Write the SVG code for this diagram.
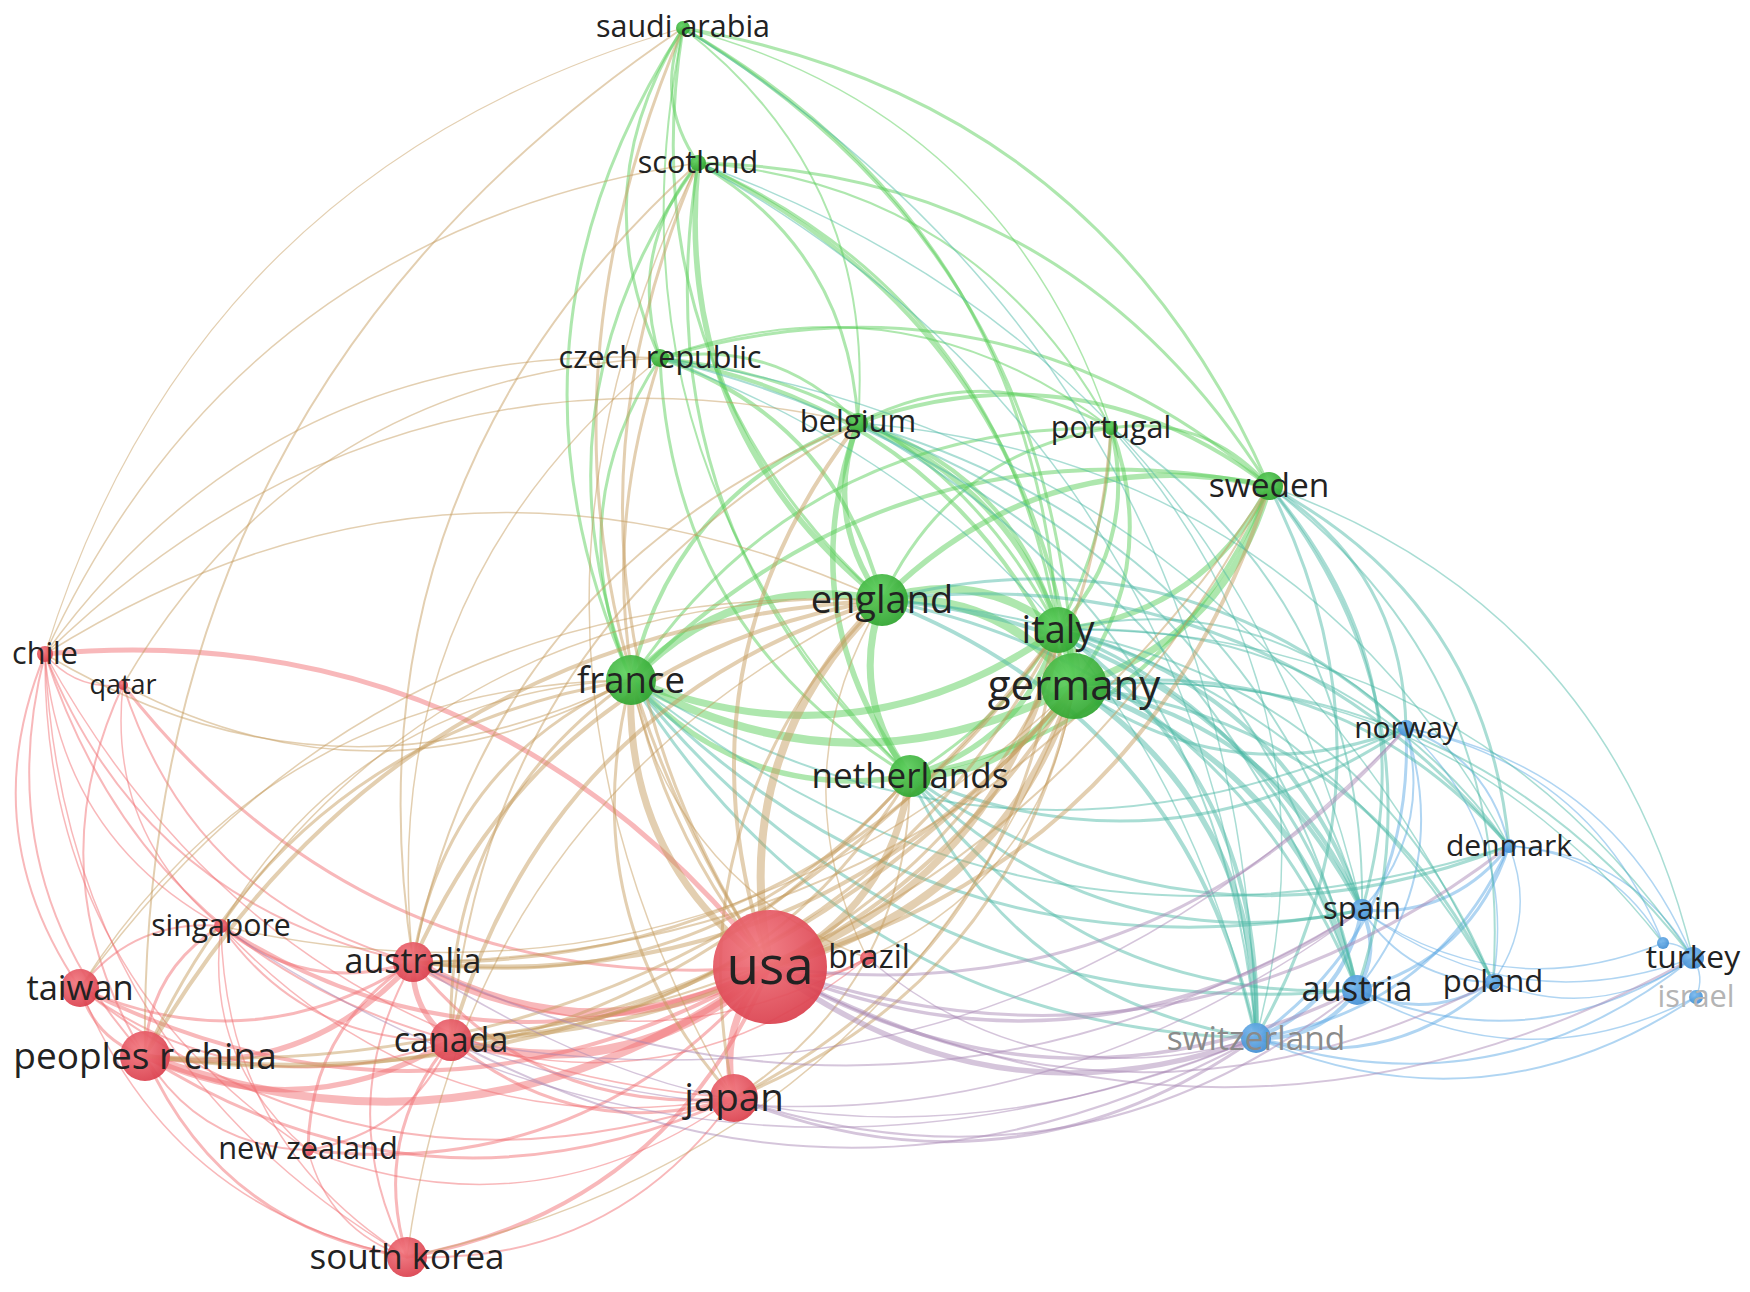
<svg xmlns="http://www.w3.org/2000/svg" width="1750" height="1292" viewBox="0 0 1750 1292">
<style>
.e{fill:none;stroke-opacity:.48;stroke-linecap:round}
.rr{stroke:#f06a6e}
.gg{stroke:#55cc55}
.bb{stroke:#5aa8e4}
.rg{stroke:#c49a5c}
.gb{stroke:#4bb8a6}
.rb{stroke:#a886b4}
.nr{fill:url(#gR);fill-opacity:.93}
.ng{fill:url(#gG);fill-opacity:.93}
.nb{fill:url(#gB);fill-opacity:.93}
text{font-family:"Open Sans","Liberation Sans",sans-serif;text-anchor:middle;fill:#222}
</style>
<defs>
<path id="c" d="M0 0Q0.5 0.27 1 0" fill="none" vector-effect="non-scaling-stroke"/>
<radialGradient id="gR" cx="0.4" cy="0.35" r="0.75"><stop offset="0" stop-color="#f27880"/><stop offset="1" stop-color="#d83a48"/></radialGradient>
<radialGradient id="gG" cx="0.4" cy="0.35" r="0.75"><stop offset="0" stop-color="#5fd05f"/><stop offset="1" stop-color="#2a9f2a"/></radialGradient>
<radialGradient id="gB" cx="0.4" cy="0.35" r="0.75"><stop offset="0" stop-color="#78b8ee"/><stop offset="1" stop-color="#3a88cf"/></radialGradient>
</defs>
<rect width="1750" height="1292" fill="#fff"/>
<g id="connectors" class="e">
<use href="#c" class="rr" stroke-width="8" transform="matrix(625 -89 89 625 145 1056)"/>
<use href="#c" class="rr" stroke-width="9" transform="matrix(357 5 -5 357 413 962)"/>
<use href="#c" class="rr" stroke-width="9" transform="matrix(319 -73 73 319 451 1040)"/>
<use href="#c" class="rr" stroke-width="7" transform="matrix(-36 131 -131 -36 770 967)"/>
<use href="#c" class="rr" stroke-width="4" transform="matrix(690 -21 21 690 80 988)"/>
<use href="#c" class="rr" stroke-width="4" transform="matrix(363 -290 290 363 407 1257)"/>
<use href="#c" class="rr" stroke-width="4" transform="matrix(549 41 -41 549 221 926)"/>
<use href="#c" class="rr" stroke-width="3" transform="matrix(462 -183 183 462 308 1150)"/>
<use href="#c" class="rr" stroke-width="5" transform="matrix(-725 -313 313 -725 770 967)"/>
<use href="#c" class="rr" stroke-width="3" transform="matrix(647 282 -282 647 123 685)"/>
<use href="#c" class="rr" stroke-width="3" transform="matrix(97 -9 9 97 770 967)"/>
<use href="#c" class="rr" stroke-width="5.5" transform="matrix(268 -94 94 268 145 1056)"/>
<use href="#c" class="rr" stroke-width="5.5" transform="matrix(306 -16 16 306 145 1056)"/>
<use href="#c" class="rr" stroke-width="3" transform="matrix(589 42 -42 589 145 1056)"/>
<use href="#c" class="rr" stroke-width="3" transform="matrix(65 68 -68 65 80 988)"/>
<use href="#c" class="rr" stroke-width="3" transform="matrix(262 201 -201 262 145 1056)"/>
<use href="#c" class="rr" stroke-width="3" transform="matrix(-76 130 -130 -76 221 926)"/>
<use href="#c" class="rr" stroke-width="2" transform="matrix(163 94 -94 163 145 1056)"/>
<use href="#c" class="rr" stroke-width="2" transform="matrix(100 402 -402 100 45 654)"/>
<use href="#c" class="rr" stroke-width="2" transform="matrix(22 371 -371 22 123 685)"/>
<use href="#c" class="rr" stroke-width="5.5" transform="matrix(38 78 -78 38 413 962)"/>
<use href="#c" class="rr" stroke-width="3" transform="matrix(321 136 -136 321 413 962)"/>
<use href="#c" class="rr" stroke-width="3" transform="matrix(333 -26 26 333 80 988)"/>
<use href="#c" class="rr" stroke-width="2" transform="matrix(-6 295 -295 -6 413 962)"/>
<use href="#c" class="rr" stroke-width="3" transform="matrix(192 36 -36 192 221 926)"/>
<use href="#c" class="rr" stroke-width="3" transform="matrix(-105 188 -188 -105 413 962)"/>
<use href="#c" class="rr" stroke-width="2" transform="matrix(368 308 -308 368 45 654)"/>
<use href="#c" class="rr" stroke-width="2" transform="matrix(290 277 -277 290 123 685)"/>
<use href="#c" class="rr" stroke-width="1.5" transform="matrix(454 -4 4 454 413 962)"/>
<use href="#c" class="rr" stroke-width="3" transform="matrix(283 58 -58 283 451 1040)"/>
<use href="#c" class="rr" stroke-width="2" transform="matrix(371 52 -52 371 80 988)"/>
<use href="#c" class="rr" stroke-width="3" transform="matrix(-44 217 -217 -44 451 1040)"/>
<use href="#c" class="rr" stroke-width="2" transform="matrix(230 114 -114 230 221 926)"/>
<use href="#c" class="rr" stroke-width="2" transform="matrix(143 -110 110 143 308 1150)"/>
<use href="#c" class="rr" stroke-width="2" transform="matrix(406 386 -386 406 45 654)"/>
<use href="#c" class="rr" stroke-width="1.5" transform="matrix(416 -82 82 416 451 1040)"/>
<use href="#c" class="rr" stroke-width="2" transform="matrix(327 -159 159 327 407 1257)"/>
<use href="#c" class="rr" stroke-width="2" transform="matrix(654 110 -110 654 80 988)"/>
<use href="#c" class="rr" stroke-width="1.5" transform="matrix(513 172 -172 513 221 926)"/>
<use href="#c" class="rr" stroke-width="1.5" transform="matrix(426 -52 52 426 308 1150)"/>
<use href="#c" class="rr" stroke-width="2" transform="matrix(-141 62 -62 -141 221 926)"/>
<use href="#c" class="rr" stroke-width="2" transform="matrix(35 334 -334 35 45 654)"/>
<use href="#c" class="rr" stroke-width="1.5" transform="matrix(327 269 -269 327 80 988)"/>
<use href="#c" class="rr" stroke-width="1.5" transform="matrix(99 107 -107 99 308 1150)"/>
<use href="#c" class="rr" stroke-width="1.5" transform="matrix(186 331 -331 186 221 926)"/>
<use href="#c" class="rr" stroke-width="1.5" transform="matrix(176 272 -272 176 45 654)"/>
<use href="#c" class="rr" stroke-width="1.5" transform="matrix(98 241 -241 98 123 685)"/>
<use href="#c" class="rr" stroke-width="1.5" transform="matrix(87 224 -224 87 221 926)"/>
<use href="#c" class="rr" stroke-width="1.5" transform="matrix(78 31 -31 78 45 654)"/>
<use href="#c" class="rr" stroke-width="1.5" transform="matrix(263 496 -496 263 45 654)"/>
<use href="#c" class="rr" stroke-width="1.5" transform="matrix(689 444 -444 689 45 654)"/>
<use href="#c" class="rr" stroke-width="1.5" transform="matrix(362 603 -603 362 45 654)"/>
<use href="#c" class="gg" stroke-width="9" transform="matrix(-192 -86 86 -192 1074 686)"/>
<use href="#c" class="gg" stroke-width="9" transform="matrix(-16 -56 56 -16 1074 686)"/>
<use href="#c" class="gg" stroke-width="8" transform="matrix(443 6 -6 443 631 680)"/>
<use href="#c" class="gg" stroke-width="8" transform="matrix(164 -90 90 164 910 776)"/>
<use href="#c" class="gg" stroke-width="7" transform="matrix(195 -200 200 195 1074 686)"/>
<use href="#c" class="gg" stroke-width="5.5" transform="matrix(-216 -263 263 -216 1074 686)"/>
<use href="#c" class="gg" stroke-width="4" transform="matrix(-414 -328 328 -414 1074 686)"/>
<use href="#c" class="gg" stroke-width="4" transform="matrix(-376 -523 523 -376 1074 686)"/>
<use href="#c" class="gg" stroke-width="3" transform="matrix(-391 -658 658 -391 1074 686)"/>
<use href="#c" class="gg" stroke-width="4" transform="matrix(37 -258 258 37 1074 686)"/>
<use href="#c" class="gg" stroke-width="8" transform="matrix(-176 -30 30 -176 1058 630)"/>
<use href="#c" class="gg" stroke-width="8" transform="matrix(-251 80 -80 -251 882 600)"/>
<use href="#c" class="gg" stroke-width="7" transform="matrix(28 176 -176 28 882 600)"/>
<use href="#c" class="gg" stroke-width="5.5" transform="matrix(-387 114 -114 -387 1269 486)"/>
<use href="#c" class="gg" stroke-width="5.5" transform="matrix(24 177 -177 24 858 423)"/>
<use href="#c" class="gg" stroke-width="4" transform="matrix(-222 -242 242 -222 882 600)"/>
<use href="#c" class="gg" stroke-width="5.5" transform="matrix(184 437 -437 184 698 163)"/>
<use href="#c" class="gg" stroke-width="3" transform="matrix(199 572 -572 199 683 28)"/>
<use href="#c" class="gg" stroke-width="3" transform="matrix(-229 172 -172 -229 1111 428)"/>
<use href="#c" class="gg" stroke-width="7" transform="matrix(427 -50 50 427 631 680)"/>
<use href="#c" class="gg" stroke-width="5.5" transform="matrix(148 -146 146 148 910 776)"/>
<use href="#c" class="gg" stroke-width="5.5" transform="matrix(211 -144 144 211 1058 630)"/>
<use href="#c" class="gg" stroke-width="4" transform="matrix(-200 -207 207 -200 1058 630)"/>
<use href="#c" class="gg" stroke-width="3" transform="matrix(-398 -272 272 -398 1058 630)"/>
<use href="#c" class="gg" stroke-width="3" transform="matrix(-360 -467 467 -360 1058 630)"/>
<use href="#c" class="gg" stroke-width="3" transform="matrix(-375 -602 602 -375 1058 630)"/>
<use href="#c" class="gg" stroke-width="4" transform="matrix(53 -202 202 53 1058 630)"/>
<use href="#c" class="gg" stroke-width="5.5" transform="matrix(279 96 -96 279 631 680)"/>
<use href="#c" class="gg" stroke-width="4" transform="matrix(-638 194 -194 -638 1269 486)"/>
<use href="#c" class="gg" stroke-width="4" transform="matrix(-227 257 -257 -227 858 423)"/>
<use href="#c" class="gg" stroke-width="3" transform="matrix(-29 322 -322 -29 660 358)"/>
<use href="#c" class="gg" stroke-width="3" transform="matrix(-67 517 -517 -67 698 163)"/>
<use href="#c" class="gg" stroke-width="3" transform="matrix(-52 652 -652 -52 683 28)"/>
<use href="#c" class="gg" stroke-width="3" transform="matrix(-480 252 -252 -480 1111 428)"/>
<use href="#c" class="gg" stroke-width="4" transform="matrix(359 -290 290 359 910 776)"/>
<use href="#c" class="gg" stroke-width="5.5" transform="matrix(52 353 -353 52 858 423)"/>
<use href="#c" class="gg" stroke-width="3" transform="matrix(250 418 -418 250 660 358)"/>
<use href="#c" class="gg" stroke-width="3" transform="matrix(212 613 -613 212 698 163)"/>
<use href="#c" class="gg" stroke-width="2" transform="matrix(227 748 -748 227 683 28)"/>
<use href="#c" class="gg" stroke-width="3" transform="matrix(201 -348 348 201 910 776)"/>
<use href="#c" class="gg" stroke-width="4" transform="matrix(-411 -63 63 -411 1269 486)"/>
<use href="#c" class="gg" stroke-width="3" transform="matrix(-609 -128 128 -609 1269 486)"/>
<use href="#c" class="gg" stroke-width="3" transform="matrix(-571 -323 323 -571 1269 486)"/>
<use href="#c" class="gg" stroke-width="3" transform="matrix(-586 -458 458 -586 1269 486)"/>
<use href="#c" class="gg" stroke-width="3" transform="matrix(-158 -58 58 -158 1269 486)"/>
<use href="#c" class="gg" stroke-width="3" transform="matrix(-198 -65 65 -198 858 423)"/>
<use href="#c" class="gg" stroke-width="3" transform="matrix(-160 -260 260 -160 858 423)"/>
<use href="#c" class="gg" stroke-width="2" transform="matrix(-175 -395 395 -175 858 423)"/>
<use href="#c" class="gg" stroke-width="3" transform="matrix(-253 -5 5 -253 1111 428)"/>
<use href="#c" class="gg" stroke-width="3" transform="matrix(-38 195 -195 -38 698 163)"/>
<use href="#c" class="gg" stroke-width="3" transform="matrix(-23 330 -330 -23 683 28)"/>
<use href="#c" class="gg" stroke-width="2" transform="matrix(-451 -70 70 -451 1111 428)"/>
<use href="#c" class="gg" stroke-width="3" transform="matrix(15 135 -135 15 683 28)"/>
<use href="#c" class="gg" stroke-width="2" transform="matrix(-413 -265 265 -413 1111 428)"/>
<use href="#c" class="gg" stroke-width="1.5" transform="matrix(-428 -400 400 -428 1111 428)"/>
<use href="#c" class="bb" stroke-width="4" transform="matrix(101 -48 48 101 1256 1038)"/>
<use href="#c" class="bb" stroke-width="4" transform="matrix(106 -128 128 106 1256 1038)"/>
<use href="#c" class="bb" stroke-width="3" transform="matrix(237 -56 56 237 1256 1038)"/>
<use href="#c" class="bb" stroke-width="3" transform="matrix(253 -192 192 253 1256 1038)"/>
<use href="#c" class="bb" stroke-width="3" transform="matrix(150 -310 310 150 1256 1038)"/>
<use href="#c" class="bb" stroke-width="2" transform="matrix(437 -80 80 437 1256 1038)"/>
<use href="#c" class="bb" stroke-width="2" transform="matrix(440 -41 41 440 1256 1038)"/>
<use href="#c" class="bb" stroke-width="4" transform="matrix(5 -80 80 5 1357 990)"/>
<use href="#c" class="bb" stroke-width="3" transform="matrix(136 -8 8 136 1357 990)"/>
<use href="#c" class="bb" stroke-width="3" transform="matrix(152 -144 144 152 1357 990)"/>
<use href="#c" class="bb" stroke-width="2" transform="matrix(49 -262 262 49 1357 990)"/>
<use href="#c" class="bb" stroke-width="2" transform="matrix(336 -32 32 336 1357 990)"/>
<use href="#c" class="bb" stroke-width="1.5" transform="matrix(339 7 -7 339 1357 990)"/>
<use href="#c" class="bb" stroke-width="2" transform="matrix(131 72 -72 131 1362 910)"/>
<use href="#c" class="bb" stroke-width="3" transform="matrix(147 -64 64 147 1362 910)"/>
<use href="#c" class="bb" stroke-width="2" transform="matrix(44 -182 182 44 1362 910)"/>
<use href="#c" class="bb" stroke-width="1.5" transform="matrix(331 48 -48 331 1362 910)"/>
<use href="#c" class="bb" stroke-width="1.5" transform="matrix(301 33 -33 301 1362 910)"/>
<use href="#c" class="bb" stroke-width="1.5" transform="matrix(16 -136 136 16 1493 982)"/>
<use href="#c" class="bb" stroke-width="1.5" transform="matrix(200 -24 24 200 1493 982)"/>
<use href="#c" class="bb" stroke-width="1.5" transform="matrix(-87 -254 254 -87 1493 982)"/>
<use href="#c" class="bb" stroke-width="2" transform="matrix(-103 -118 118 -103 1509 846)"/>
<use href="#c" class="bb" stroke-width="1.5" transform="matrix(-184 -112 112 -184 1693 958)"/>
<use href="#c" class="bb" stroke-width="1.5" transform="matrix(-154 -97 97 -154 1663 943)"/>
<use href="#c" class="bb" stroke-width="1.5" transform="matrix(-287 -230 230 -287 1693 958)"/>
<use href="#c" class="bb" stroke-width="1.5" transform="matrix(-257 -215 215 -257 1663 943)"/>
<use href="#c" class="bb" stroke-width="1.5" transform="matrix(-3 -39 39 -3 1696 997)"/>
<use href="#c" class="bb" stroke-width="1.5" transform="matrix(-30 -15 15 -30 1693 958)"/>
<use href="#c" class="gb" stroke-width="5.5" transform="matrix(-182 -352 352 -182 1256 1038)"/>
<use href="#c" class="gb" stroke-width="5.5" transform="matrix(-283 -304 304 -283 1357 990)"/>
<use href="#c" class="gb" stroke-width="4" transform="matrix(-288 -224 224 -288 1362 910)"/>
<use href="#c" class="gb" stroke-width="3" transform="matrix(-419 -296 296 -419 1493 982)"/>
<use href="#c" class="gb" stroke-width="3" transform="matrix(-435 -160 160 -435 1509 846)"/>
<use href="#c" class="gb" stroke-width="3" transform="matrix(332 42 -42 332 1074 686)"/>
<use href="#c" class="gb" stroke-width="2" transform="matrix(-619 -272 272 -619 1693 958)"/>
<use href="#c" class="gb" stroke-width="1.5" transform="matrix(-589 -257 257 -589 1663 943)"/>
<use href="#c" class="gb" stroke-width="4" transform="matrix(-374 -438 438 -374 1256 1038)"/>
<use href="#c" class="gb" stroke-width="3" transform="matrix(-475 -390 390 -475 1357 990)"/>
<use href="#c" class="gb" stroke-width="4" transform="matrix(-480 -310 310 -480 1362 910)"/>
<use href="#c" class="gb" stroke-width="3" transform="matrix(-627 -246 246 -627 1509 846)"/>
<use href="#c" class="gb" stroke-width="3" transform="matrix(-524 -128 128 -524 1406 728)"/>
<use href="#c" class="gb" stroke-width="2" transform="matrix(-611 -382 382 -611 1493 982)"/>
<use href="#c" class="gb" stroke-width="4" transform="matrix(-198 -408 408 -198 1256 1038)"/>
<use href="#c" class="gb" stroke-width="3" transform="matrix(-299 -360 360 -299 1357 990)"/>
<use href="#c" class="gb" stroke-width="4" transform="matrix(-304 -280 280 -304 1362 910)"/>
<use href="#c" class="gb" stroke-width="2" transform="matrix(-451 -216 216 -451 1509 846)"/>
<use href="#c" class="gb" stroke-width="2" transform="matrix(-348 -98 98 -348 1406 728)"/>
<use href="#c" class="gb" stroke-width="2" transform="matrix(-435 -352 352 -435 1493 982)"/>
<use href="#c" class="gb" stroke-width="1.5" transform="matrix(-635 -328 328 -635 1693 958)"/>
<use href="#c" class="gb" stroke-width="3" transform="matrix(625 358 -358 625 631 680)"/>
<use href="#c" class="gb" stroke-width="3" transform="matrix(726 310 -310 726 631 680)"/>
<use href="#c" class="gb" stroke-width="3" transform="matrix(731 230 -230 731 631 680)"/>
<use href="#c" class="gb" stroke-width="2" transform="matrix(878 166 -166 878 631 680)"/>
<use href="#c" class="gb" stroke-width="2" transform="matrix(775 48 -48 775 631 680)"/>
<use href="#c" class="gb" stroke-width="3" transform="matrix(346 262 -262 346 910 776)"/>
<use href="#c" class="gb" stroke-width="3" transform="matrix(447 214 -214 447 910 776)"/>
<use href="#c" class="gb" stroke-width="3" transform="matrix(452 134 -134 452 910 776)"/>
<use href="#c" class="gb" stroke-width="3" transform="matrix(599 70 -70 599 910 776)"/>
<use href="#c" class="gb" stroke-width="3" transform="matrix(496 -48 48 496 910 776)"/>
<use href="#c" class="gb" stroke-width="3" transform="matrix(13 -552 552 13 1256 1038)"/>
<use href="#c" class="gb" stroke-width="3" transform="matrix(-88 -504 504 -88 1357 990)"/>
<use href="#c" class="gb" stroke-width="3" transform="matrix(-93 -424 424 -93 1362 910)"/>
<use href="#c" class="gb" stroke-width="3" transform="matrix(-240 -360 360 -240 1509 846)"/>
<use href="#c" class="gb" stroke-width="3" transform="matrix(-137 -242 242 -137 1406 728)"/>
<use href="#c" class="gb" stroke-width="2" transform="matrix(-224 -496 496 -224 1493 982)"/>
<use href="#c" class="gb" stroke-width="1.5" transform="matrix(-424 -472 472 -424 1693 958)"/>
<use href="#c" class="gb" stroke-width="2" transform="matrix(-398 -615 615 -398 1256 1038)"/>
<use href="#c" class="gb" stroke-width="2" transform="matrix(-499 -567 567 -499 1357 990)"/>
<use href="#c" class="gb" stroke-width="2" transform="matrix(-504 -487 487 -504 1362 910)"/>
<use href="#c" class="gb" stroke-width="1.5" transform="matrix(-651 -423 423 -651 1509 846)"/>
<use href="#c" class="gb" stroke-width="2" transform="matrix(-697 -632 632 -697 1357 990)"/>
<use href="#c" class="gb" stroke-width="1.5" transform="matrix(-596 -680 680 -596 1256 1038)"/>
<use href="#c" class="gb" stroke-width="1.5" transform="matrix(-833 -624 624 -833 1493 982)"/>
<use href="#c" class="gb" stroke-width="1.5" transform="matrix(-558 -875 875 -558 1256 1038)"/>
<use href="#c" class="gb" stroke-width="1.5" transform="matrix(-664 -747 747 -664 1362 910)"/>
<use href="#c" class="gb" stroke-width="1.5" transform="matrix(-573 -1010 1010 -573 1256 1038)"/>
<use href="#c" class="gb" stroke-width="2" transform="matrix(-251 -482 482 -251 1362 910)"/>
<use href="#c" class="gb" stroke-width="1.5" transform="matrix(-145 -610 610 -145 1256 1038)"/>
<use href="#c" class="rg" stroke-width="8" transform="matrix(304 -281 281 304 770 967)"/>
<use href="#c" class="rg" stroke-width="8" transform="matrix(-112 367 -367 -112 882 600)"/>
<use href="#c" class="rg" stroke-width="7" transform="matrix(139 287 -287 139 631 680)"/>
<use href="#c" class="rg" stroke-width="7" transform="matrix(288 -337 337 288 770 967)"/>
<use href="#c" class="rg" stroke-width="7" transform="matrix(140 -191 191 140 770 967)"/>
<use href="#c" class="rg" stroke-width="4" transform="matrix(499 -481 481 499 770 967)"/>
<use href="#c" class="rg" stroke-width="4" transform="matrix(-88 544 -544 -88 858 423)"/>
<use href="#c" class="rg" stroke-width="3" transform="matrix(110 609 -609 110 660 358)"/>
<use href="#c" class="rg" stroke-width="3" transform="matrix(72 804 -804 72 698 163)"/>
<use href="#c" class="rg" stroke-width="3" transform="matrix(87 939 -939 87 683 28)"/>
<use href="#c" class="rg" stroke-width="3" transform="matrix(341 -539 539 341 770 967)"/>
<use href="#c" class="rg" stroke-width="4" transform="matrix(929 -370 370 929 145 1056)"/>
<use href="#c" class="rg" stroke-width="4" transform="matrix(-737 456 -456 -737 882 600)"/>
<use href="#c" class="rg" stroke-width="3" transform="matrix(-486 376 -376 -486 631 680)"/>
<use href="#c" class="rg" stroke-width="3" transform="matrix(913 -426 426 913 145 1056)"/>
<use href="#c" class="rg" stroke-width="3" transform="matrix(765 -280 280 765 145 1056)"/>
<use href="#c" class="rg" stroke-width="2" transform="matrix(-538 1028 -1028 -538 683 28)"/>
<use href="#c" class="rg" stroke-width="4" transform="matrix(661 -276 276 661 413 962)"/>
<use href="#c" class="rg" stroke-width="4" transform="matrix(-469 362 -362 -469 882 600)"/>
<use href="#c" class="rg" stroke-width="3" transform="matrix(-218 282 -282 -218 631 680)"/>
<use href="#c" class="rg" stroke-width="3" transform="matrix(645 -332 332 645 413 962)"/>
<use href="#c" class="rg" stroke-width="3" transform="matrix(497 -186 186 497 413 962)"/>
<use href="#c" class="rg" stroke-width="2" transform="matrix(856 -476 476 856 413 962)"/>
<use href="#c" class="rg" stroke-width="2" transform="matrix(-445 539 -539 -445 858 423)"/>
<use href="#c" class="rg" stroke-width="1.5" transform="matrix(-247 604 -604 -247 660 358)"/>
<use href="#c" class="rg" stroke-width="2" transform="matrix(-285 799 -799 -285 698 163)"/>
<use href="#c" class="rg" stroke-width="4" transform="matrix(623 -354 354 623 451 1040)"/>
<use href="#c" class="rg" stroke-width="4" transform="matrix(-431 440 -440 -431 882 600)"/>
<use href="#c" class="rg" stroke-width="3" transform="matrix(-180 360 -360 -180 631 680)"/>
<use href="#c" class="rg" stroke-width="3" transform="matrix(607 -410 410 607 451 1040)"/>
<use href="#c" class="rg" stroke-width="3" transform="matrix(459 -264 264 459 451 1040)"/>
<use href="#c" class="rg" stroke-width="2" transform="matrix(818 -554 554 818 451 1040)"/>
<use href="#c" class="rg" stroke-width="2" transform="matrix(-407 617 -617 -407 858 423)"/>
<use href="#c" class="rg" stroke-width="3" transform="matrix(340 -412 412 340 734 1098)"/>
<use href="#c" class="rg" stroke-width="3" transform="matrix(-148 498 -498 -148 882 600)"/>
<use href="#c" class="rg" stroke-width="3" transform="matrix(103 418 -418 103 631 680)"/>
<use href="#c" class="rg" stroke-width="3" transform="matrix(324 -468 468 324 734 1098)"/>
<use href="#c" class="rg" stroke-width="2" transform="matrix(176 -322 322 176 734 1098)"/>
<use href="#c" class="rg" stroke-width="1.5" transform="matrix(36 935 -935 36 698 163)"/>
<use href="#c" class="rg" stroke-width="1.5" transform="matrix(-551 308 -308 -551 631 680)"/>
<use href="#c" class="rg" stroke-width="1.5" transform="matrix(-802 388 -388 -802 882 600)"/>
<use href="#c" class="rg" stroke-width="1.5" transform="matrix(-475 657 -657 -475 882 600)"/>
<use href="#c" class="rg" stroke-width="1.5" transform="matrix(667 -571 571 667 407 1257)"/>
<use href="#c" class="rg" stroke-width="1.5" transform="matrix(-410 246 -246 -410 631 680)"/>
<use href="#c" class="rg" stroke-width="1.5" transform="matrix(-661 326 -326 -661 882 600)"/>
<use href="#c" class="rg" stroke-width="1.5" transform="matrix(853 -240 240 853 221 926)"/>
<use href="#c" class="rg" stroke-width="1.5" transform="matrix(-653 491 -491 -653 698 163)"/>
<use href="#c" class="rg" stroke-width="1.5" transform="matrix(586 26 -26 586 45 654)"/>
<use href="#c" class="rg" stroke-width="1.5" transform="matrix(-615 296 -296 -615 660 358)"/>
<use href="#c" class="rg" stroke-width="1.5" transform="matrix(-837 54 -54 -837 882 600)"/>
<use href="#c" class="rg" stroke-width="1.2" transform="matrix(-638 626 -626 -638 683 28)"/>
<use href="#c" class="rg" stroke-width="1.5" transform="matrix(-813 231 -231 -813 858 423)"/>
<use href="#c" class="rg" stroke-width="1.5" transform="matrix(508 -5 5 508 123 685)"/>
<use href="#c" class="rg" stroke-width="1.5" transform="matrix(-537 327 -327 -537 660 358)"/>
<use href="#c" class="rg" stroke-width="1.5" transform="matrix(207 -272 272 207 867 958)"/>
<use href="#c" class="rg" stroke-width="1.5" transform="matrix(-15 358 -358 -15 882 600)"/>
<use href="#c" class="rg" stroke-width="1.5" transform="matrix(236 278 -278 236 631 680)"/>
<use href="#c" class="rb" stroke-width="5.5" transform="matrix(486 71 -71 486 770 967)"/>
<use href="#c" class="rb" stroke-width="3.5" transform="matrix(587 23 -23 587 770 967)"/>
<use href="#c" class="rb" stroke-width="3.5" transform="matrix(592 -57 57 592 770 967)"/>
<use href="#c" class="rb" stroke-width="3" transform="matrix(739 -121 121 739 770 967)"/>
<use href="#c" class="rb" stroke-width="3" transform="matrix(636 -239 239 636 770 967)"/>
<use href="#c" class="rb" stroke-width="2" transform="matrix(723 15 -15 723 770 967)"/>
<use href="#c" class="rb" stroke-width="2" transform="matrix(923 -9 9 923 770 967)"/>
<use href="#c" class="rb" stroke-width="3" transform="matrix(522 -60 60 522 734 1098)"/>
<use href="#c" class="rb" stroke-width="2" transform="matrix(623 -108 108 623 734 1098)"/>
<use href="#c" class="rb" stroke-width="1.5" transform="matrix(843 76 -76 843 413 962)"/>
<use href="#c" class="rb" stroke-width="2" transform="matrix(949 -52 52 949 413 962)"/>
<use href="#c" class="rb" stroke-width="2" transform="matrix(805 -2 2 805 451 1040)"/>
<use href="#c" class="rb" stroke-width="1.5" transform="matrix(911 -130 130 911 451 1040)"/>
<use href="#c" class="rb" stroke-width="1.5" transform="matrix(955 -312 312 955 451 1040)"/>
<use href="#c" class="rb" stroke-width="1.5" transform="matrix(1035 112 -112 1035 221 926)"/>
<use href="#c" class="rb" stroke-width="1.5" transform="matrix(389 80 -80 389 867 958)"/>
</g>
<g id="nodes">
<g id="node-usa"><circle cx="770" cy="967" r="57" class="nr"/><text x="770" y="984" font-size="53">usa</text></g>
<g id="node-germany"><circle cx="1074" cy="686" r="33" class="ng"/><text x="1074" y="700" font-size="42">germany</text></g>
<g id="node-england"><circle cx="882" cy="600" r="26" class="ng"/><text x="882" y="613" font-size="38">england</text></g>
<g id="node-italy"><circle cx="1058" cy="630" r="23" class="ng"/><text x="1058" y="643" font-size="38">italy</text></g>
<g id="node-france"><circle cx="631" cy="680" r="25" class="ng"/><text x="631" y="693" font-size="36.5">france</text></g>
<g id="node-netherlands"><circle cx="910" cy="776" r="21" class="ng"/><text x="910" y="788" font-size="35">netherlands</text></g>
<g id="node-peoples-r-china"><circle cx="145" cy="1056" r="25" class="nr"/><text x="145" y="1069" font-size="37">peoples r china</text></g>
<g id="node-japan"><circle cx="734" cy="1098" r="24" class="nr"/><text x="734" y="1111" font-size="38.5">japan</text></g>
<g id="node-canada"><circle cx="451" cy="1040" r="21" class="nr"/><text x="451" y="1052" font-size="34">canada</text></g>
<g id="node-australia"><circle cx="413" cy="962" r="20" class="nr"/><text x="413" y="973" font-size="34">australia</text></g>
<g id="node-south-korea"><circle cx="407" cy="1257" r="20" class="nr"/><text x="407" y="1269" font-size="35">south korea</text></g>
<g id="node-taiwan"><circle cx="80" cy="988" r="19" class="nr"/><text x="80" y="1000" font-size="34.5">taiwan</text></g>
<g id="node-switzerland"><circle cx="1256" cy="1038" r="15" class="nb"/><text x="1256" y="1050" font-size="33.5" style="fill:#8a8a8a">switzerland</text></g>
<g id="node-austria"><circle cx="1357" cy="990" r="15" class="nb"/><text x="1357" y="1001" font-size="34.5">austria</text></g>
<g id="node-sweden"><circle cx="1269" cy="486" r="14" class="ng"/><text x="1269" y="497" font-size="33.5">sweden</text></g>
<g id="node-spain"><circle cx="1362" cy="910" r="11" class="nb"/><text x="1362" y="919" font-size="31">spain</text></g>
<g id="node-turkey"><circle cx="1693" cy="958" r="11" class="nb"/><text x="1693" y="968" font-size="31.8">turkey</text></g>
<g id="node-belgium"><circle cx="858" cy="423" r="10" class="ng"/><text x="858" y="432" font-size="31">belgium</text></g>
<g id="node-czech-republic"><circle cx="660" cy="358" r="9" class="ng"/><text x="660" y="368" font-size="30.5">czech republic</text></g>
<g id="node-scotland"><circle cx="698" cy="163" r="8" class="ng"/><text x="698" y="173" font-size="30.5">scotland</text></g>
<g id="node-saudi-arabia"><circle cx="683" cy="28" r="7" class="ng"/><text x="683" y="37" font-size="30.5">saudi arabia</text></g>
<g id="node-portugal"><circle cx="1111" cy="428" r="7" class="ng"/><text x="1111" y="438" font-size="30.5">portugal</text></g>
<g id="node-norway"><circle cx="1406" cy="728" r="8" class="nb"/><text x="1406" y="738" font-size="30">norway</text></g>
<g id="node-denmark"><circle cx="1509" cy="846" r="7" class="nb"/><text x="1509" y="856" font-size="30">denmark</text></g>
<g id="node-poland"><circle cx="1493" cy="982" r="8" class="nb"/><text x="1493" y="992" font-size="31">poland</text></g>
<g id="node-unlabelled"><circle cx="1663" cy="943" r="6" class="nb"/></g>
<g id="node-israel"><circle cx="1696" cy="997" r="7" class="nb"/><text x="1696" y="1007" font-size="30.8" style="fill:#b4b4b4">israel</text></g>
<g id="node-chile"><circle cx="45" cy="654" r="8" class="nr"/><text x="45" y="664" font-size="30.5">chile</text></g>
<g id="node-qatar"><circle cx="123" cy="685" r="5" class="nr"/><text x="123" y="694" font-size="27">qatar</text></g>
<g id="node-singapore"><circle cx="221" cy="926" r="7" class="nr"/><text x="221" y="936" font-size="30.2">singapore</text></g>
<g id="node-new-zealand"><circle cx="308" cy="1150" r="6" class="nr"/><text x="308" y="1159" font-size="30.8">new zealand</text></g>
<g id="node-brazil"><circle cx="867" cy="958" r="7" class="nr"/><text x="869" y="968" font-size="32">brazil</text></g>
</g>
</svg>
